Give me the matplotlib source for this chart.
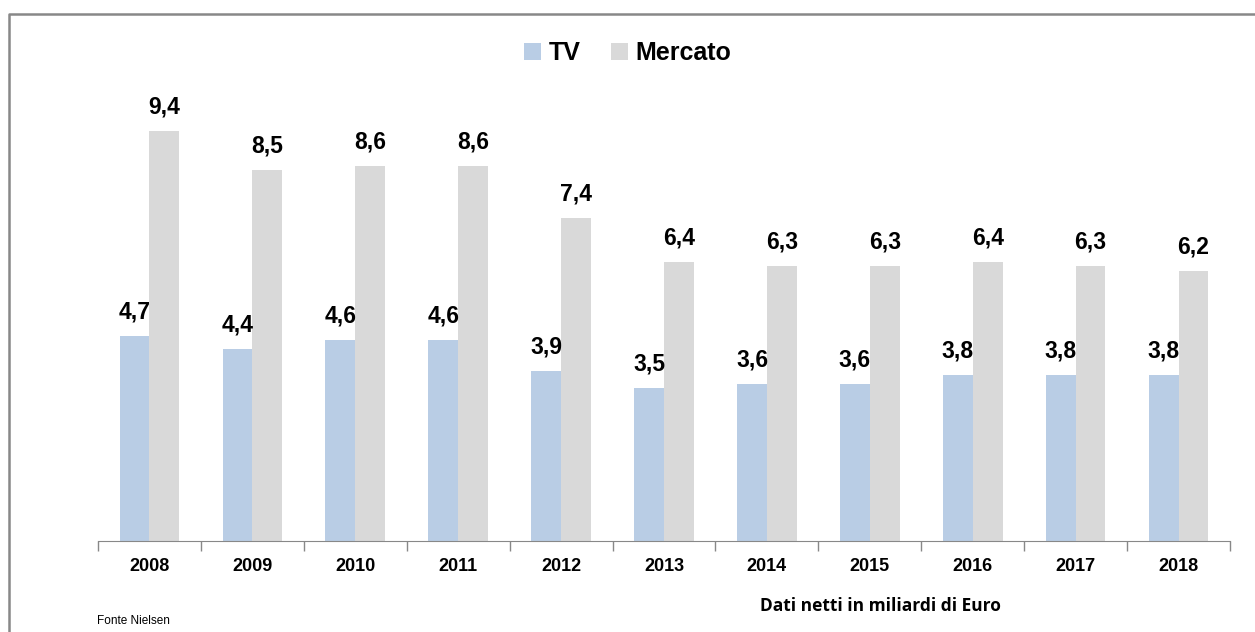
import numpy as np
import matplotlib.pyplot as plt
from matplotlib.lines import Line2D

plt.rcParams['font.family'] = ['Liberation Sans', 'DejaVu Sans']

anni = ['2008', '2009', '2010', '2011', '2012', '2013', '2014', '2015', '2016', '2017', '2018']
tv = [4.7, 4.4, 4.6, 4.6, 3.9, 3.5, 3.6, 3.6, 3.8, 3.8, 3.8]
mercato = [9.4, 8.5, 8.6, 8.6, 7.4, 6.4, 6.3, 6.3, 6.4, 6.3, 6.2]

W, H = 1255, 632
fig = plt.figure(figsize=(W / 100, H / 100), dpi=100)
ax = fig.add_axes([98 / W, (H - 541) / H, (1230 - 98) / W, 436 / H])

x = np.arange(len(anni))
bw = 0.29
b1 = ax.bar(x - bw / 2, tv, bw, color='#B9CDE5', label='TV')
b2 = ax.bar(x + bw / 2, mercato, bw, color='#D9D9D9', label='Mercato')

for bars, vals in ((b1, tv), (b2, mercato)):
    for b, v in zip(bars, vals):
        ax.annotate(('%.1f' % v).replace('.', ','),
                    (b.get_x() + b.get_width() / 2, v),
                    xytext=(0, 9), textcoords='offset points',
                    ha='center', va='bottom', fontsize=16.5, fontweight='bold')

ax.set_xlim(-0.5, len(anni) - 0.5)
ax.set_ylim(0, 10)
ax.set_xticks(x)
ax.set_xticklabels(anni, fontsize=13, fontweight='bold')
ax.set_xticks(np.arange(len(anni) + 1) - 0.5, minor=True)
ax.tick_params(axis='x', which='major', length=0, pad=12)
ax.tick_params(axis='x', which='minor', length=7, color='#888888', width=1)
ax.set_yticks([])
for s in ['top', 'right', 'left']:
    ax.spines[s].set_visible(False)
ax.spines['bottom'].set_color('#888888')

fig.legend(handles=[b1, b2], loc='center', bbox_to_anchor=(0.5, 1 - 53 / H),
           ncol=2, frameon=False, prop={'size': 18, 'weight': 'bold'},
           handlelength=0.7, handleheight=0.7, handletextpad=0.3,
           columnspacing=1.2)

fig.text(880 / W, 1 - 606 / H, 'Dati netti in miliardi di Euro',
         ha='center', va='center', fontsize=12.5, fontweight='bold',
         family=['Open Sans', 'DejaVu Sans'])
fig.text(97 / W, 1 - 621 / H, 'Fonte Nielsen', ha='left', va='center',
         fontsize=8.5, family=['Liberation Sans Narrow', 'Liberation Sans'])

# cornice
fig.add_artist(Line2D([9 / W, 9 / W, 1], [0, 1 - 14 / H, 1 - 14 / H],
                      transform=fig.transFigure, color='#888888', lw=1.8))

fig.savefig('out.png', dpi=100)
